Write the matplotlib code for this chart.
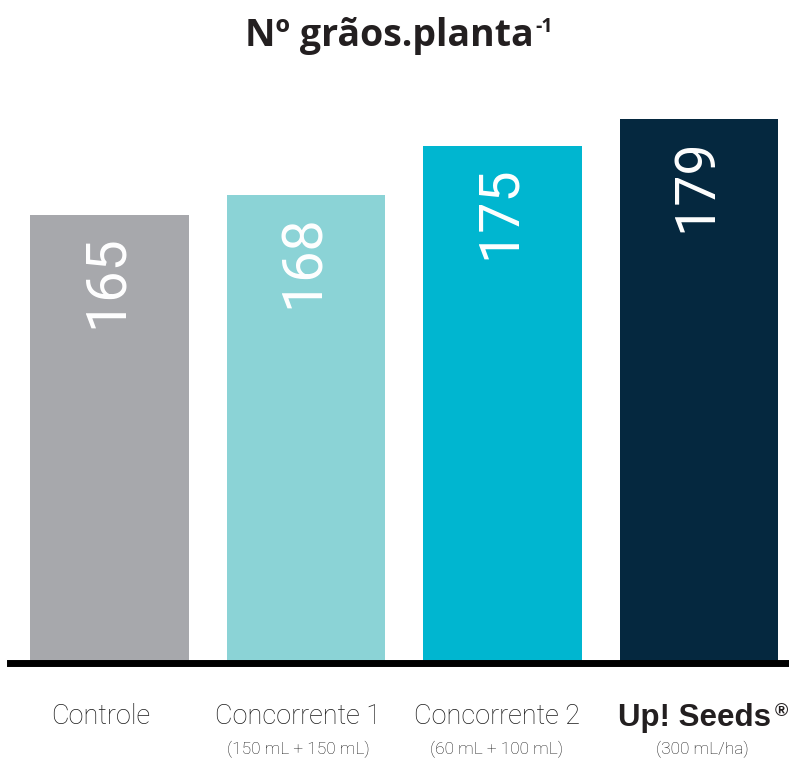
import matplotlib.pyplot as plt

# data
categories = ['Controle', 'Concorrente 1', 'Concorrente 2', 'Up! Seeds']
doses = ['', '(150 mL + 150 mL)', '(60 mL + 100 mL)', '(300 mL/ha)']
values = [165, 168, 175, 179]
colors = ['#a7a8ac', '#8bd3d6', '#00b6d0', '#05283f']
label_x = [100.5, 298.5, 496.5, 694]  # label centres, px

fig = plt.figure(figsize=(7.89, 7.65), dpi=100)
ax = fig.add_axes([10 / 789, 102 / 765, 779 / 789, 0.7203])

x = range(len(values))
bars = ax.bar(x, values, width=0.805, color=colors, zorder=2)
ax.set_ylim(100, 180)
ax.set_xlim(-0.506, 3.458)

# value labels inside bars, rotated
for bar, v in zip(bars, values):
    ax.annotate(str(v), (bar.get_x() + bar.get_width() / 2, v),
                xytext=(-2, -14), textcoords='offset points',
                rotation=90, ha='center', va='top', color='white',
                fontsize=40, family='Roboto')

# baseline
ax.axhline(100, color='black', lw=5, zorder=3, clip_on=False)

for s in ax.spines.values():
    s.set_visible(False)
ax.set_xticks([])
ax.set_yticks([])

# category labels
for i, (cat, dose) in enumerate(zip(categories, doses)):
    xf = label_x[i] / 789
    if cat == 'Up! Seeds':
        fig.text(xf, 1 - 718 / 765, cat, ha='center', va='center',
                 fontsize=22.5, family='Liberation Sans', fontweight='bold',
                 color='#231f20')
        fig.text(781 / 789, 1 - 711 / 765, '®', ha='center', va='center',
                 fontsize=13, family='Liberation Sans', fontweight='bold',
                 color='#231f20')
    else:
        fig.text(xf, 1 - 716 / 765, cat, ha='center', va='center',
                 fontsize=19.5, family='Roboto', fontweight='light',
                 color='#1a1a1a')
    if dose:
        xd = (label_x[i] + (8 if i == 3 else 0)) / 789
        fig.text(xd, 1 - 749 / 765, dose, ha='center', va='center',
                 fontsize=12.5, family='Roboto', fontweight='light',
                 color='#1a1a1a')

# title with superscript
title = fig.text(0.493, 1 - 36 / 765, 'Nº grãos.planta', ha='center',
                 va='center', fontsize=27, family='Open Sans',
                 fontweight='bold', color='#231f20')
fig.canvas.draw()
bb = title.get_window_extent()
fig.text(bb.x1 / fig.bbox.width + 0.002, 1 - 27 / 765, '-1', ha='left',
         va='center', fontsize=14, family='Open Sans', fontweight='bold',
         color='#231f20')

fig.savefig('out.png', dpi=100)
